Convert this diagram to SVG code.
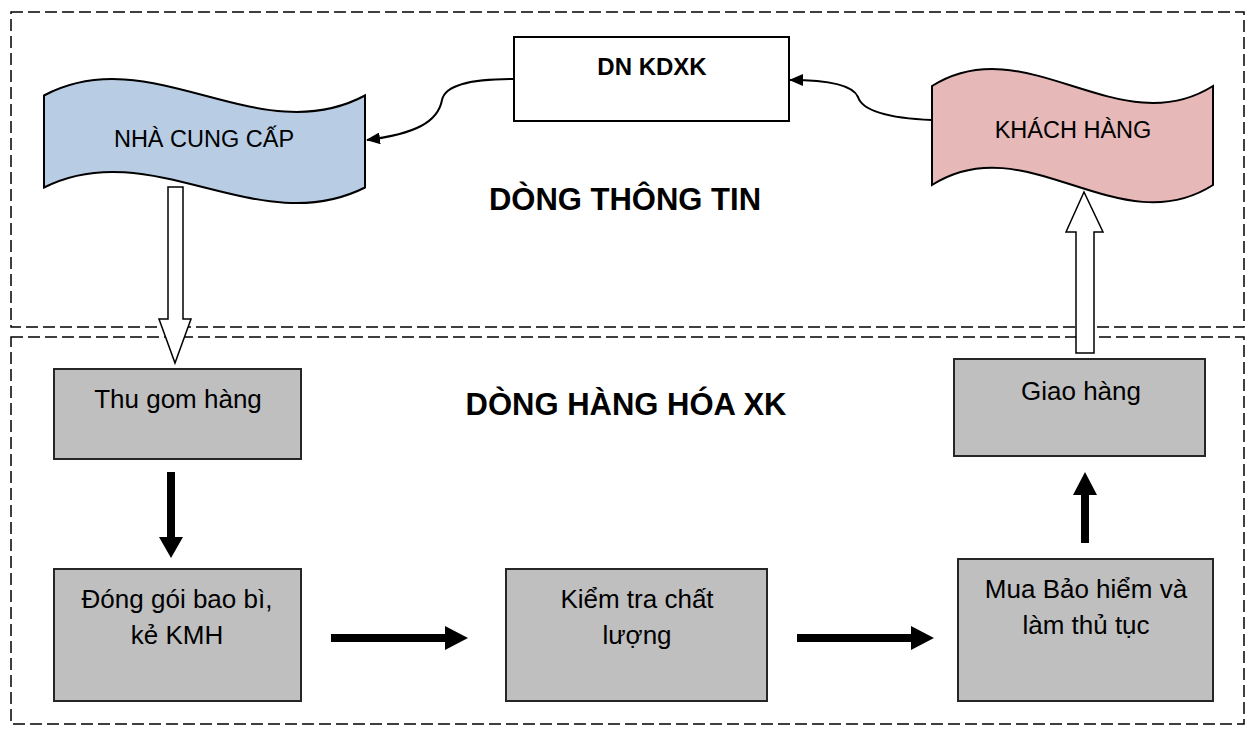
<svg xmlns="http://www.w3.org/2000/svg" width="1249" height="734" viewBox="0 0 1249 734">
  <defs>
    <marker id="ah" markerWidth="14" markerHeight="12" refX="13" refY="6" orient="auto" markerUnits="userSpaceOnUse">
      <path d="M0,0 L14,6 L0,12 Z" fill="#000"/>
    </marker>
    <style>
      text { font-family: "Liberation Sans", Arial, sans-serif; fill: #000; }
      .frame { fill: none; stroke: #000; stroke-width: 1.5; stroke-dasharray: 12 5; }
      .proc { fill: #BFBFBF; stroke: #262626; stroke-width: 2; }
      .lbl { font-size: 26px; text-anchor: middle; }
      .flagtxt { font-size: 23.5px; text-anchor: middle; }
      .title { font-size: 31px; font-weight: bold; text-anchor: middle; }
      .curve { fill: none; stroke: #000; stroke-width: 2; marker-end: url(#ah); }
      .hollow { fill: #fff; stroke: #000; stroke-width: 1.5; }
      .solid { fill: #000; stroke: none; }
    </style>
  </defs>
  <rect width="1249" height="734" fill="#fff"/>

  <g id="frames">
    <rect class="frame" x="11" y="12" width="1233" height="315"/>
    <rect class="frame" x="11" y="337" width="1233" height="387"/>
  </g>

  <g id="titles">
    <text class="title" x="625" y="210">DÒNG THÔNG TIN</text>
    <text class="title" x="626" y="415">DÒNG HÀNG HÓA XK</text>
  </g>

  <g id="connectors">
    <path class="curve" d="M514,79 C470,79 445,85 442,100 C438,122 415,134 367,140"/>
    <path class="curve" d="M932,120 C885,118 862,110 858,97 C853,85 830,80 790,80"/>
    <polygon class="hollow" points="168,187 183,187 183,319 191,319 175,363 159,319 168,319"/>
    <polygon class="hollow" points="1076,353 1094,353 1094,232 1103,232 1084,192 1066,232 1076,232"/>
    <polygon class="solid" points="167,472 175,472 175,537 183,537 171,558 159,537 167,537"/>
    <polygon class="solid" points="331,634 445,634 445,626 468,638 445,650 445,642 331,642"/>
    <polygon class="solid" points="797,634 911,634 911,626 934,638 911,650 911,642 797,642"/>
    <polygon class="solid" points="1081,543 1081,495 1073,495 1085,472 1097,495 1089,495 1089,543"/>
  </g>

  <g id="dn-kdxk">
    <rect x="514" y="37" width="275" height="84" fill="#fff" stroke="#000" stroke-width="2"/>
    <text x="652" y="75" font-size="24" font-weight="bold" text-anchor="middle">DN KDXK</text>
  </g>

  <g id="nha-cung-cap">
    <path d="M44,95.5 C151,38.5 258,152.5 365,95.5 L365,187.5 C258,241.5 151,133.5 44,187.5 Z" fill="#B8CCE4" stroke="#000" stroke-width="2"/>
    <text class="flagtxt" x="204" y="147">NHÀ CUNG CẤP</text>
  </g>

  <g id="khach-hang">
    <path d="M932,86 C1026,27 1119,145 1213,86 L1213,185 C1119,245 1026,125 932,185 Z" fill="#E6B8B7" stroke="#000" stroke-width="2"/>
    <text class="flagtxt" x="1073" y="138">KHÁCH HÀNG</text>
  </g>

  <g id="thu-gom">
    <rect class="proc" x="54" y="369" width="247" height="90"/>
    <text class="lbl" x="178" y="408">Thu gom hàng</text>
  </g>

  <g id="dong-goi">
    <rect class="proc" x="54" y="569" width="247" height="132"/>
    <text class="lbl" x="177" y="608">Đóng gói bao bì,</text>
    <text class="lbl" x="177" y="644">kẻ KMH</text>
  </g>

  <g id="kiem-tra">
    <rect class="proc" x="506" y="569" width="261" height="132"/>
    <text class="lbl" x="637" y="608">Kiểm tra chất</text>
    <text class="lbl" x="637" y="644">lượng</text>
  </g>

  <g id="mua-bao-hiem">
    <rect class="proc" x="958" y="559" width="255" height="142"/>
    <text class="lbl" x="1086" y="598">Mua Bảo hiểm và</text>
    <text class="lbl" x="1086" y="634">làm thủ tục</text>
  </g>

  <g id="giao-hang">
    <rect class="proc" x="954" y="359" width="251" height="97"/>
    <text class="lbl" x="1081" y="400">Giao hàng</text>
  </g>
</svg>
